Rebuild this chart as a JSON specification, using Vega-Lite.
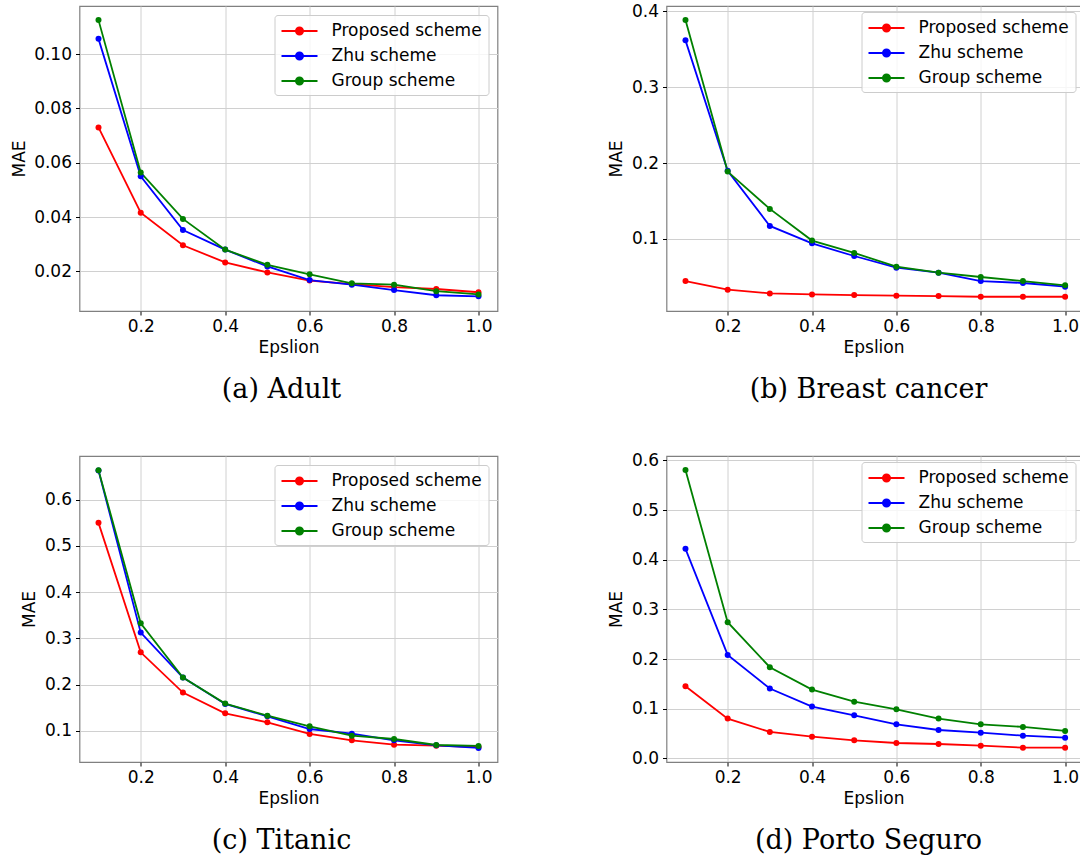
{
  "$schema": "https://vega.github.io/schema/vega-lite/v6.json",
  "background": "white",
  "padding": {"left": 9.5, "top": 1, "right": 0, "bottom": 0},
  "data": {"values": [
    {"d":"a","scheme":"Proposed scheme","eps":0.1,"mae":0.073},
    {"d":"a","scheme":"Proposed scheme","eps":0.2,"mae":0.0416},
    {"d":"a","scheme":"Proposed scheme","eps":0.3,"mae":0.0296},
    {"d":"a","scheme":"Proposed scheme","eps":0.4,"mae":0.0233},
    {"d":"a","scheme":"Proposed scheme","eps":0.5,"mae":0.0196},
    {"d":"a","scheme":"Proposed scheme","eps":0.6,"mae":0.0166},
    {"d":"a","scheme":"Proposed scheme","eps":0.7,"mae":0.0153},
    {"d":"a","scheme":"Proposed scheme","eps":0.8,"mae":0.0142},
    {"d":"a","scheme":"Proposed scheme","eps":0.9,"mae":0.0135},
    {"d":"a","scheme":"Proposed scheme","eps":1.0,"mae":0.0123},
    {"d":"a","scheme":"Zhu scheme","eps":0.1,"mae":0.1056},
    {"d":"a","scheme":"Zhu scheme","eps":0.2,"mae":0.055},
    {"d":"a","scheme":"Zhu scheme","eps":0.3,"mae":0.0352},
    {"d":"a","scheme":"Zhu scheme","eps":0.4,"mae":0.028},
    {"d":"a","scheme":"Zhu scheme","eps":0.5,"mae":0.0218},
    {"d":"a","scheme":"Zhu scheme","eps":0.6,"mae":0.0168},
    {"d":"a","scheme":"Zhu scheme","eps":0.7,"mae":0.0151},
    {"d":"a","scheme":"Zhu scheme","eps":0.8,"mae":0.0131},
    {"d":"a","scheme":"Zhu scheme","eps":0.9,"mae":0.0112},
    {"d":"a","scheme":"Zhu scheme","eps":1.0,"mae":0.0108},
    {"d":"a","scheme":"Group scheme","eps":0.1,"mae":0.1125},
    {"d":"a","scheme":"Group scheme","eps":0.2,"mae":0.0564},
    {"d":"a","scheme":"Group scheme","eps":0.3,"mae":0.0393},
    {"d":"a","scheme":"Group scheme","eps":0.4,"mae":0.028},
    {"d":"a","scheme":"Group scheme","eps":0.5,"mae":0.0224},
    {"d":"a","scheme":"Group scheme","eps":0.6,"mae":0.0189},
    {"d":"a","scheme":"Group scheme","eps":0.7,"mae":0.0156},
    {"d":"a","scheme":"Group scheme","eps":0.8,"mae":0.0151},
    {"d":"a","scheme":"Group scheme","eps":0.9,"mae":0.0127},
    {"d":"a","scheme":"Group scheme","eps":1.0,"mae":0.0115},
    {"d":"b","scheme":"Proposed scheme","eps":0.1,"mae":0.0445},
    {"d":"b","scheme":"Proposed scheme","eps":0.2,"mae":0.0331},
    {"d":"b","scheme":"Proposed scheme","eps":0.3,"mae":0.0282},
    {"d":"b","scheme":"Proposed scheme","eps":0.4,"mae":0.0269},
    {"d":"b","scheme":"Proposed scheme","eps":0.5,"mae":0.026},
    {"d":"b","scheme":"Proposed scheme","eps":0.6,"mae":0.0252},
    {"d":"b","scheme":"Proposed scheme","eps":0.7,"mae":0.0247},
    {"d":"b","scheme":"Proposed scheme","eps":0.8,"mae":0.0238},
    {"d":"b","scheme":"Proposed scheme","eps":0.9,"mae":0.0238},
    {"d":"b","scheme":"Proposed scheme","eps":1.0,"mae":0.0238},
    {"d":"b","scheme":"Zhu scheme","eps":0.1,"mae":0.3617},
    {"d":"b","scheme":"Zhu scheme","eps":0.2,"mae":0.1897},
    {"d":"b","scheme":"Zhu scheme","eps":0.3,"mae":0.1171},
    {"d":"b","scheme":"Zhu scheme","eps":0.4,"mae":0.0942},
    {"d":"b","scheme":"Zhu scheme","eps":0.5,"mae":0.0775},
    {"d":"b","scheme":"Zhu scheme","eps":0.6,"mae":0.0621},
    {"d":"b","scheme":"Zhu scheme","eps":0.7,"mae":0.0555},
    {"d":"b","scheme":"Zhu scheme","eps":0.8,"mae":0.0445},
    {"d":"b","scheme":"Zhu scheme","eps":0.9,"mae":0.0419},
    {"d":"b","scheme":"Zhu scheme","eps":1.0,"mae":0.037},
    {"d":"b","scheme":"Group scheme","eps":0.1,"mae":0.3886},
    {"d":"b","scheme":"Group scheme","eps":0.2,"mae":0.1888},
    {"d":"b","scheme":"Group scheme","eps":0.3,"mae":0.1396},
    {"d":"b","scheme":"Group scheme","eps":0.4,"mae":0.0978},
    {"d":"b","scheme":"Group scheme","eps":0.5,"mae":0.0815},
    {"d":"b","scheme":"Group scheme","eps":0.6,"mae":0.0634},
    {"d":"b","scheme":"Group scheme","eps":0.7,"mae":0.0555},
    {"d":"b","scheme":"Group scheme","eps":0.8,"mae":0.0498},
    {"d":"b","scheme":"Group scheme","eps":0.9,"mae":0.0445},
    {"d":"b","scheme":"Group scheme","eps":1.0,"mae":0.0388},
    {"d":"c","scheme":"Proposed scheme","eps":0.1,"mae":0.5496},
    {"d":"c","scheme":"Proposed scheme","eps":0.2,"mae":0.27},
    {"d":"c","scheme":"Proposed scheme","eps":0.3,"mae":0.1829},
    {"d":"c","scheme":"Proposed scheme","eps":0.4,"mae":0.1382},
    {"d":"c","scheme":"Proposed scheme","eps":0.5,"mae":0.1187},
    {"d":"c","scheme":"Proposed scheme","eps":0.6,"mae":0.0935},
    {"d":"c","scheme":"Proposed scheme","eps":0.7,"mae":0.0798},
    {"d":"c","scheme":"Proposed scheme","eps":0.8,"mae":0.0705},
    {"d":"c","scheme":"Proposed scheme","eps":0.9,"mae":0.0683},
    {"d":"c","scheme":"Proposed scheme","eps":1.0,"mae":0.0654},
    {"d":"c","scheme":"Zhu scheme","eps":0.1,"mae":0.6627},
    {"d":"c","scheme":"Zhu scheme","eps":0.2,"mae":0.3125},
    {"d":"c","scheme":"Zhu scheme","eps":0.3,"mae":0.2153},
    {"d":"c","scheme":"Zhu scheme","eps":0.4,"mae":0.1584},
    {"d":"c","scheme":"Zhu scheme","eps":0.5,"mae":0.1317},
    {"d":"c","scheme":"Zhu scheme","eps":0.6,"mae":0.1043},
    {"d":"c","scheme":"Zhu scheme","eps":0.7,"mae":0.0942},
    {"d":"c","scheme":"Zhu scheme","eps":0.8,"mae":0.0798},
    {"d":"c","scheme":"Zhu scheme","eps":0.9,"mae":0.069},
    {"d":"c","scheme":"Zhu scheme","eps":1.0,"mae":0.0633},
    {"d":"c","scheme":"Group scheme","eps":0.1,"mae":0.6634},
    {"d":"c","scheme":"Group scheme","eps":0.2,"mae":0.3327},
    {"d":"c","scheme":"Group scheme","eps":0.3,"mae":0.2153},
    {"d":"c","scheme":"Group scheme","eps":0.4,"mae":0.1591},
    {"d":"c","scheme":"Group scheme","eps":0.5,"mae":0.1331},
    {"d":"c","scheme":"Group scheme","eps":0.6,"mae":0.1101},
    {"d":"c","scheme":"Group scheme","eps":0.7,"mae":0.0899},
    {"d":"c","scheme":"Group scheme","eps":0.8,"mae":0.0827},
    {"d":"c","scheme":"Group scheme","eps":0.9,"mae":0.0697},
    {"d":"c","scheme":"Group scheme","eps":1.0,"mae":0.0677},
    {"d":"d","scheme":"Proposed scheme","eps":0.1,"mae":0.1452},
    {"d":"d","scheme":"Proposed scheme","eps":0.2,"mae":0.08},
    {"d":"d","scheme":"Proposed scheme","eps":0.3,"mae":0.0531},
    {"d":"d","scheme":"Proposed scheme","eps":0.4,"mae":0.0437},
    {"d":"d","scheme":"Proposed scheme","eps":0.5,"mae":0.0363},
    {"d":"d","scheme":"Proposed scheme","eps":0.6,"mae":0.0309},
    {"d":"d","scheme":"Proposed scheme","eps":0.7,"mae":0.0289},
    {"d":"d","scheme":"Proposed scheme","eps":0.8,"mae":0.0255},
    {"d":"d","scheme":"Proposed scheme","eps":0.9,"mae":0.0215},
    {"d":"d","scheme":"Proposed scheme","eps":1.0,"mae":0.0215},
    {"d":"d","scheme":"Zhu scheme","eps":0.1,"mae":0.422},
    {"d":"d","scheme":"Zhu scheme","eps":0.2,"mae":0.2083},
    {"d":"d","scheme":"Zhu scheme","eps":0.3,"mae":0.1405},
    {"d":"d","scheme":"Zhu scheme","eps":0.4,"mae":0.1042},
    {"d":"d","scheme":"Zhu scheme","eps":0.5,"mae":0.0867},
    {"d":"d","scheme":"Zhu scheme","eps":0.6,"mae":0.0685},
    {"d":"d","scheme":"Zhu scheme","eps":0.7,"mae":0.0571},
    {"d":"d","scheme":"Zhu scheme","eps":0.8,"mae":0.0517},
    {"d":"d","scheme":"Zhu scheme","eps":0.9,"mae":0.0457},
    {"d":"d","scheme":"Zhu scheme","eps":1.0,"mae":0.0417},
    {"d":"d","scheme":"Group scheme","eps":0.1,"mae":0.5806},
    {"d":"d","scheme":"Group scheme","eps":0.2,"mae":0.2742},
    {"d":"d","scheme":"Group scheme","eps":0.3,"mae":0.1835},
    {"d":"d","scheme":"Group scheme","eps":0.4,"mae":0.1384},
    {"d":"d","scheme":"Group scheme","eps":0.5,"mae":0.1142},
    {"d":"d","scheme":"Group scheme","eps":0.6,"mae":0.0988},
    {"d":"d","scheme":"Group scheme","eps":0.7,"mae":0.08},
    {"d":"d","scheme":"Group scheme","eps":0.8,"mae":0.0685},
    {"d":"d","scheme":"Group scheme","eps":0.9,"mae":0.0632},
    {"d":"d","scheme":"Group scheme","eps":1.0,"mae":0.0551}
  ]},
  "spacing": 450,
  "bounds": "flush",
  "resolve": {"scale": {"x": "independent", "y": "independent", "color": "shared"}, "legend": {"color": "independent"}, "axis": {"x": "independent", "y": "independent"}},
  "vconcat": [
    {
      "spacing": 169,
      "bounds": "flush",
      "resolve": {"scale": {"x": "independent", "y": "independent", "color": "shared"}, "legend": {"color": "independent"}, "axis": {"x": "independent", "y": "independent"}},
      "hconcat": [
        {
          "width": 418, "height": 305,
          "title": {"text": "(a) Adult", "orient": "bottom", "anchor": "middle", "offset": 22, "dx": -7, "font": "DejaVu Serif", "fontSize": 27, "fontWeight": "normal", "color": "#000000"},
          "transform": [{"filter": "datum.d === 'a'"}],
          "encoding": {
            "x": {"field": "eps", "type": "quantitative", "scale": {"domain": [0.055, 1.045], "nice": false, "zero": false}, "axis": {"title": "Epslion", "values": [0.2, 0.4, 0.6, 0.8, 1.0], "format": ".1f"}},
            "y": {"field": "mae", "type": "quantitative", "scale": {"domain": [0.0054, 0.1177], "nice": false, "zero": false}, "axis": {"title": "MAE", "values": [0.02, 0.04, 0.06, 0.08, 0.10], "format": ".2f"}},
            "color": {"field": "scheme", "type": "nominal", "scale": {"domain": ["Proposed scheme", "Zhu scheme", "Group scheme"], "range": ["#ff0000", "#0000ff", "#008000"]},
              "legend": {"title": null, "orient": "top-right", "offset": 9, "symbolType": "M-1,0H3M1.4,0A0.4,0.4,0,1,1,0.6,0A0.4,0.4,0,1,1,1.4,0Z", "symbolSize": 324, "symbolStrokeWidth": 1.8, "labelFont": "DejaVu Sans", "labelFontSize": 17, "labelColor": "#000000", "labelOffset": 31, "labelLimit": 400, "padding": 6, "rowPadding": 7, "fillColor": "rgba(255,255,255,0.8)", "strokeColor": "#cccccc", "cornerRadius": 3,
                "encode": {"symbols": {"update": {"fill": {"scale": "color", "field": "value"}, "stroke": {"scale": "color", "field": "value"}, "opacity": {"value": 1}}}}}}
          },
          "layer": [
            {"mark": {"type": "line", "strokeWidth": 1.8}},
            {"mark": {"type": "circle", "size": 36, "opacity": 1}}
          ]
        },
        {
          "width": 414, "height": 305,
          "title": {"text": "(b) Breast cancer", "orient": "bottom", "anchor": "middle", "offset": 22, "dx": -5, "font": "DejaVu Serif", "fontSize": 27, "fontWeight": "normal", "color": "#000000"},
          "transform": [{"filter": "datum.d === 'b'"}],
          "encoding": {
            "x": {"field": "eps", "type": "quantitative", "scale": {"domain": [0.055, 1.0365], "nice": false, "zero": false}, "axis": {"title": "Epslion", "values": [0.2, 0.4, 0.6, 0.8, 1.0], "format": ".1f"}},
            "y": {"field": "mae", "type": "quantitative", "scale": {"domain": [0.005, 0.407], "nice": false, "zero": false}, "axis": {"title": "MAE", "values": [0.1, 0.2, 0.3, 0.4], "format": ".1f"}},
            "color": {"field": "scheme", "type": "nominal", "scale": {"domain": ["Proposed scheme", "Zhu scheme", "Group scheme"], "range": ["#ff0000", "#0000ff", "#008000"]},
              "legend": {"title": null, "orient": "top-right", "offset": 5.5, "symbolType": "M-1,0H3M1.4,0A0.4,0.4,0,1,1,0.6,0A0.4,0.4,0,1,1,1.4,0Z", "symbolSize": 324, "symbolStrokeWidth": 1.8, "labelFont": "DejaVu Sans", "labelFontSize": 17, "labelColor": "#000000", "labelOffset": 31, "labelLimit": 400, "padding": 6, "rowPadding": 7, "fillColor": "rgba(255,255,255,0.8)", "strokeColor": "#cccccc", "cornerRadius": 3,
                "encode": {"symbols": {"update": {"fill": {"scale": "color", "field": "value"}, "stroke": {"scale": "color", "field": "value"}, "opacity": {"value": 1}}}}}}
          },
          "layer": [
            {"mark": {"type": "line", "strokeWidth": 1.8}},
            {"mark": {"type": "circle", "size": 36, "opacity": 1}}
          ]
        }
      ]
    },
    {
      "spacing": 169,
      "bounds": "flush",
      "resolve": {"scale": {"x": "independent", "y": "independent", "color": "shared"}, "legend": {"color": "independent"}, "axis": {"x": "independent", "y": "independent"}},
      "hconcat": [
        {
          "width": 418, "height": 306,
          "title": {"text": "(c) Titanic", "orient": "bottom", "anchor": "middle", "offset": 22, "dx": -7, "font": "DejaVu Serif", "fontSize": 27, "fontWeight": "normal", "color": "#000000"},
          "transform": [{"filter": "datum.d === 'c'"}],
          "encoding": {
            "x": {"field": "eps", "type": "quantitative", "scale": {"domain": [0.055, 1.045], "nice": false, "zero": false}, "axis": {"title": "Epslion", "values": [0.2, 0.4, 0.6, 0.8, 1.0], "format": ".1f"}},
            "y": {"field": "mae", "type": "quantitative", "scale": {"domain": [0.033, 0.694], "nice": false, "zero": false}, "axis": {"title": "MAE", "values": [0.1, 0.2, 0.3, 0.4, 0.5, 0.6], "format": ".1f"}},
            "color": {"field": "scheme", "type": "nominal", "scale": {"domain": ["Proposed scheme", "Zhu scheme", "Group scheme"], "range": ["#ff0000", "#0000ff", "#008000"]},
              "legend": {"title": null, "orient": "top-right", "offset": 9, "symbolType": "M-1,0H3M1.4,0A0.4,0.4,0,1,1,0.6,0A0.4,0.4,0,1,1,1.4,0Z", "symbolSize": 324, "symbolStrokeWidth": 1.8, "labelFont": "DejaVu Sans", "labelFontSize": 17, "labelColor": "#000000", "labelOffset": 31, "labelLimit": 400, "padding": 6, "rowPadding": 7, "fillColor": "rgba(255,255,255,0.8)", "strokeColor": "#cccccc", "cornerRadius": 3,
                "encode": {"symbols": {"update": {"fill": {"scale": "color", "field": "value"}, "stroke": {"scale": "color", "field": "value"}, "opacity": {"value": 1}}}}}}
          },
          "layer": [
            {"mark": {"type": "line", "strokeWidth": 1.8}},
            {"mark": {"type": "circle", "size": 36, "opacity": 1}}
          ]
        },
        {
          "width": 414, "height": 306,
          "title": {"text": "(d) Porto Seguro", "orient": "bottom", "anchor": "middle", "offset": 22, "dx": -5, "font": "DejaVu Serif", "fontSize": 27, "fontWeight": "normal", "color": "#000000"},
          "transform": [{"filter": "datum.d === 'd'"}],
          "encoding": {
            "x": {"field": "eps", "type": "quantitative", "scale": {"domain": [0.055, 1.0365], "nice": false, "zero": false}, "axis": {"title": "Epslion", "values": [0.2, 0.4, 0.6, 0.8, 1.0], "format": ".1f"}},
            "y": {"field": "mae", "type": "quantitative", "scale": {"domain": [-0.0074, 0.609], "nice": false, "zero": false}, "axis": {"title": "MAE", "values": [0.0, 0.1, 0.2, 0.3, 0.4, 0.5, 0.6], "format": ".1f"}},
            "color": {"field": "scheme", "type": "nominal", "scale": {"domain": ["Proposed scheme", "Zhu scheme", "Group scheme"], "range": ["#ff0000", "#0000ff", "#008000"]},
              "legend": {"title": null, "orient": "top-right", "offset": 5.5, "symbolType": "M-1,0H3M1.4,0A0.4,0.4,0,1,1,0.6,0A0.4,0.4,0,1,1,1.4,0Z", "symbolSize": 324, "symbolStrokeWidth": 1.8, "labelFont": "DejaVu Sans", "labelFontSize": 17, "labelColor": "#000000", "labelOffset": 31, "labelLimit": 400, "padding": 6, "rowPadding": 7, "fillColor": "rgba(255,255,255,0.8)", "strokeColor": "#cccccc", "cornerRadius": 3,
                "encode": {"symbols": {"update": {"fill": {"scale": "color", "field": "value"}, "stroke": {"scale": "color", "field": "value"}, "opacity": {"value": 1}}}}}}
          },
          "layer": [
            {"mark": {"type": "line", "strokeWidth": 1.8}},
            {"mark": {"type": "circle", "size": 36, "opacity": 1}}
          ]
        }
      ]
    }
  ],
  "config": {
    "view": {"stroke": "#808080", "strokeWidth": 1.2},
    "axis": {"domain": false, "grid": true, "gridColor": "#d0d0d0", "gridWidth": 1, "ticks": true, "tickColor": "#000000", "tickSize": 4, "labelFont": "DejaVu Sans", "labelFontSize": 17, "labelColor": "#000000", "labelFlush": false, "labelOverlap": false, "labelPadding": 3, "titleFont": "DejaVu Sans", "titleFontSize": 17, "titleFontWeight": "normal", "titleColor": "#000000"},
    "axisX": {"titlePadding": 5},
    "axisY": {"labelPadding": 4, "titlePadding": 5.5}
  }
}
